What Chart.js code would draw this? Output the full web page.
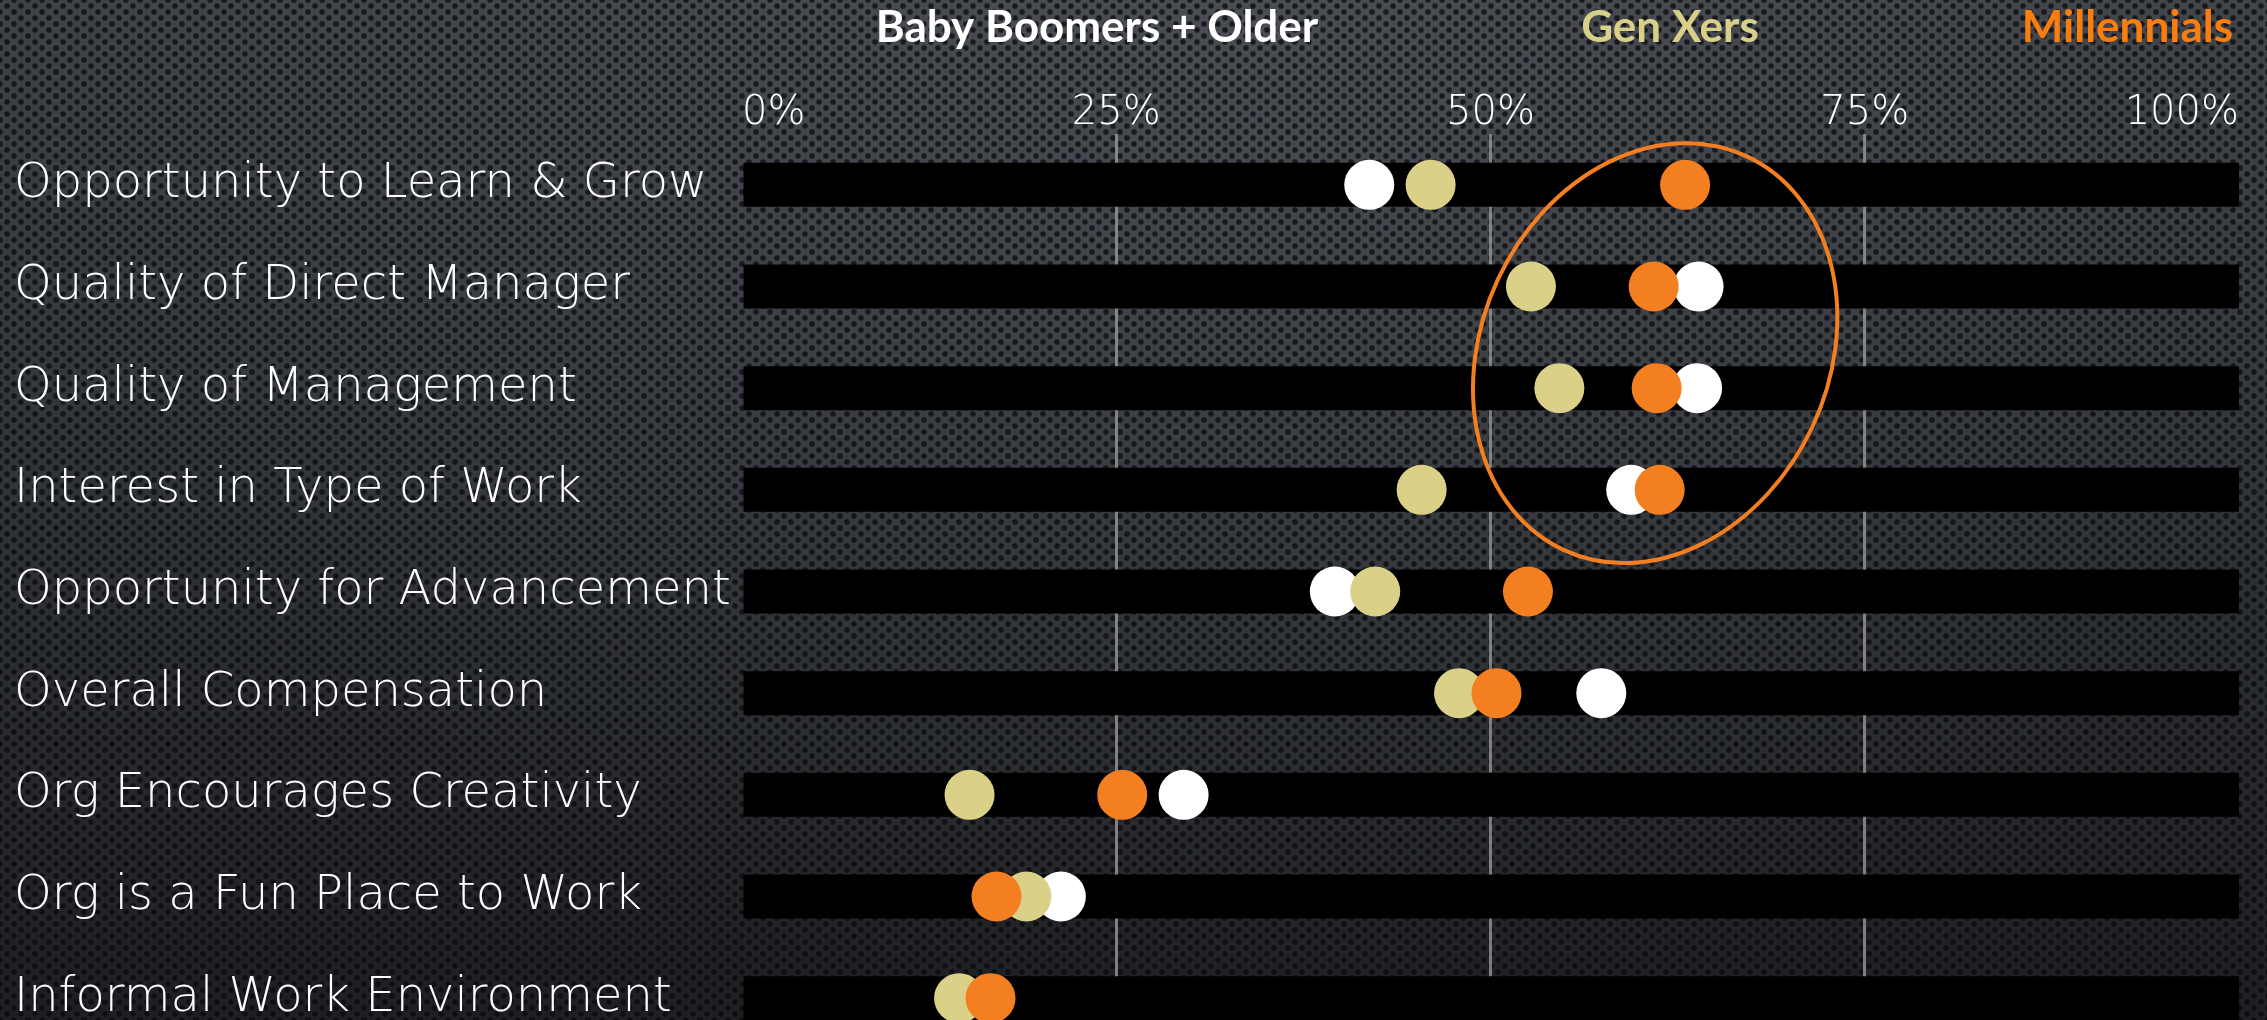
<!DOCTYPE html>
<html lang="en">
<head>
  <meta charset="UTF-8" />
  <title>Workplace drivers by generation</title>
  <script src="https://cdn.jsdelivr.net/npm/chart.js"></script>
  <style>
    html, body {
      margin: 0;
      padding: 0;
    }
    body {
      width: 2267px;
      height: 1020px;
      overflow: hidden;
      background-color: #2e3034;
      background-image:
        radial-gradient(circle, rgba(8,9,12,0.75) 0, rgba(8,9,12,0.75) 2px, rgba(8,9,12,0) 3.6px),
        radial-gradient(circle, rgba(8,9,12,0.75) 0, rgba(8,9,12,0.75) 2px, rgba(8,9,12,0) 3.6px),
        radial-gradient(ellipse at 55% 0%, rgba(95,99,106,0.35), rgba(0,0,0,0) 70%),
        linear-gradient(to bottom, #3f4247 0%, #35383d 35%, #27292c 75%, #1e1f22 100%);
      background-size: 14px 12px, 14px 12px, 100% 100%, 100% 100%;
      background-position: 0 0, 7px 6px, 0 0, 0 0;
    }
    .wrap {
      width: 2267px;
      height: 1049px;
    }
  </style>
</head>
<body>
  <div class="wrap">
    <canvas id="genChart" width="2267" height="1049"></canvas>
  </div>

  <script>
    // rows, top to bottom
    const categories = [
      'Opportunity to Learn & Grow',
      'Quality of Direct Manager',
      'Quality of Management',
      'Interest in Type of Work',
      'Opportunity for Advancement',
      'Overall Compensation',
      'Org Encourages Creativity',
      'Org is a Fun Place to Work',
      'Informal Work Environment'
    ];
    const seriesNames = ['Baby Boomers + Older', 'Gen Xers', 'Millennials'];
    const boomers = [41.9, 63.9, 63.8, 59.4, 39.6, 57.4, 29.5, 21.3, null];
    const genX = [46.0, 52.7, 54.6, 45.4, 42.3, 47.9, 15.2, 19.0, 14.5];
    const millennials = [63.0, 60.9, 61.1, 61.3, 52.5, 50.4, 25.4, 17.0, 16.6];
    const fullScale = [100, 100, 100, 100, 100, 100, 100, 100, 100];
    const xTicks = [0, 25, 50, 75, 100];

    const dotColors = ['#ffffff', '#dbd087', '#f47f20'];
    const headerColors = ['#ffffff', '#d8cf88', '#fa7d10'];

    // orange ring drawn around the top four rows
    const ring = { value: 61.0, row: 1.655, halfValue: 11.6, halfRows: 2.135, tiltDeg: 25 };

    const labelFont = "'DejaVu Sans', 'Lato', sans-serif";

    const ringPlugin = {
      id: 'ringPlugin',
      afterDatasetsDraw(chart) {
        const { ctx, scales: { x, y } } = chart;
        const cx = x.getPixelForValue(ring.value);
        const cy = y.getPixelForValue(ring.row);
        const rx = x.getPixelForValue(ring.value + ring.halfValue) - cx;
        const ry = (y.getPixelForValue(1) - y.getPixelForValue(0)) * ring.halfRows;
        ctx.save();
        ctx.beginPath();
        ctx.ellipse(cx, cy, rx, ry, ring.tiltDeg * Math.PI / 180, 0, Math.PI * 2);
        ctx.lineWidth = 4;
        ctx.strokeStyle = '#f47f20';
        ctx.stroke();
        ctx.restore();
      }
    };

    function dotSet(i, values) {
      return {
        type: 'line',
        label: seriesNames[i],
        data: values,
        showLine: false,
        pointRadius: 25,
        pointHoverRadius: 25,
        pointBorderWidth: 0,
        pointBackgroundColor: dotColors[i],
        borderColor: dotColors[i],
        order: 3 - i
      };
    }

    new Chart(document.getElementById('genChart'), {
      type: 'bar',
      data: {
        labels: categories,
        datasets: [
          {
            label: 'Scale',
            data: fullScale,
            backgroundColor: '#000000',
            barPercentage: 0.433,
            categoryPercentage: 1,
            order: 4
          },
          dotSet(0, boomers),
          dotSet(1, genX),
          dotSet(2, millennials)
        ]
      },
      options: {
        indexAxis: 'y',
        responsive: false,
        animation: false,
        layout: {
          autoPadding: false,
          padding: { left: 14, right: 28, top: 0, bottom: 0 }
        },
        plugins: {
          tooltip: { enabled: false },
          legend: {
            position: 'top',
            align: 'end',
            onClick: () => {},
            labels: {
              // a wide see-through box keeps the three names apart
              boxWidth: 235,
              boxHeight: 44,
              padding: 6,
              font: { family: "'Lato', sans-serif", weight: 'bold', size: 44 },
              generateLabels: () => seriesNames.map((name, i) => ({
                text: name,
                fontColor: headerColors[i],
                fillStyle: 'rgba(0,0,0,0)',
                strokeStyle: 'rgba(0,0,0,0)',
                lineWidth: 0,
                hidden: false,
                datasetIndex: i + 1
              }))
            }
          }
        },
        scales: {
          x: {
            position: 'top',
            min: 0,
            max: 100,
            afterBuildTicks: (scale) => { scale.ticks = xTicks.map(v => ({ value: v })); },
            afterFit: (scale) => { scale.height = 74; },
            ticks: {
              callback: (v) => v + '%',
              color: '#ffffff',
              align: 'inner',
              padding: 0,
              font: { family: labelFont, weight: 200, size: 40, lineHeight: 1 }
            },
            grid: {
              color: (ctx) => (ctx.tick && ctx.tick.value > 0 && ctx.tick.value < 100) ? 'rgba(150,150,150,0.8)' : 'rgba(0,0,0,0)',
              lineWidth: 3,
              drawTicks: false
            },
            border: { display: false }
          },
          y: {
            afterFit: (scale) => {
              scale.width = 728;
              scale.paddingTop = 0;
              scale.paddingBottom = 0;
            },
            ticks: {
              crossAlign: 'far',
              color: '#ffffff',
              padding: 0,
              font: { family: labelFont, weight: 200, size: 48, lineHeight: 0.5 }
            },
            grid: { display: false },
            border: { display: false }
          }
        }
      },
      plugins: [ringPlugin]
    });
  </script>
</body>
</html>
